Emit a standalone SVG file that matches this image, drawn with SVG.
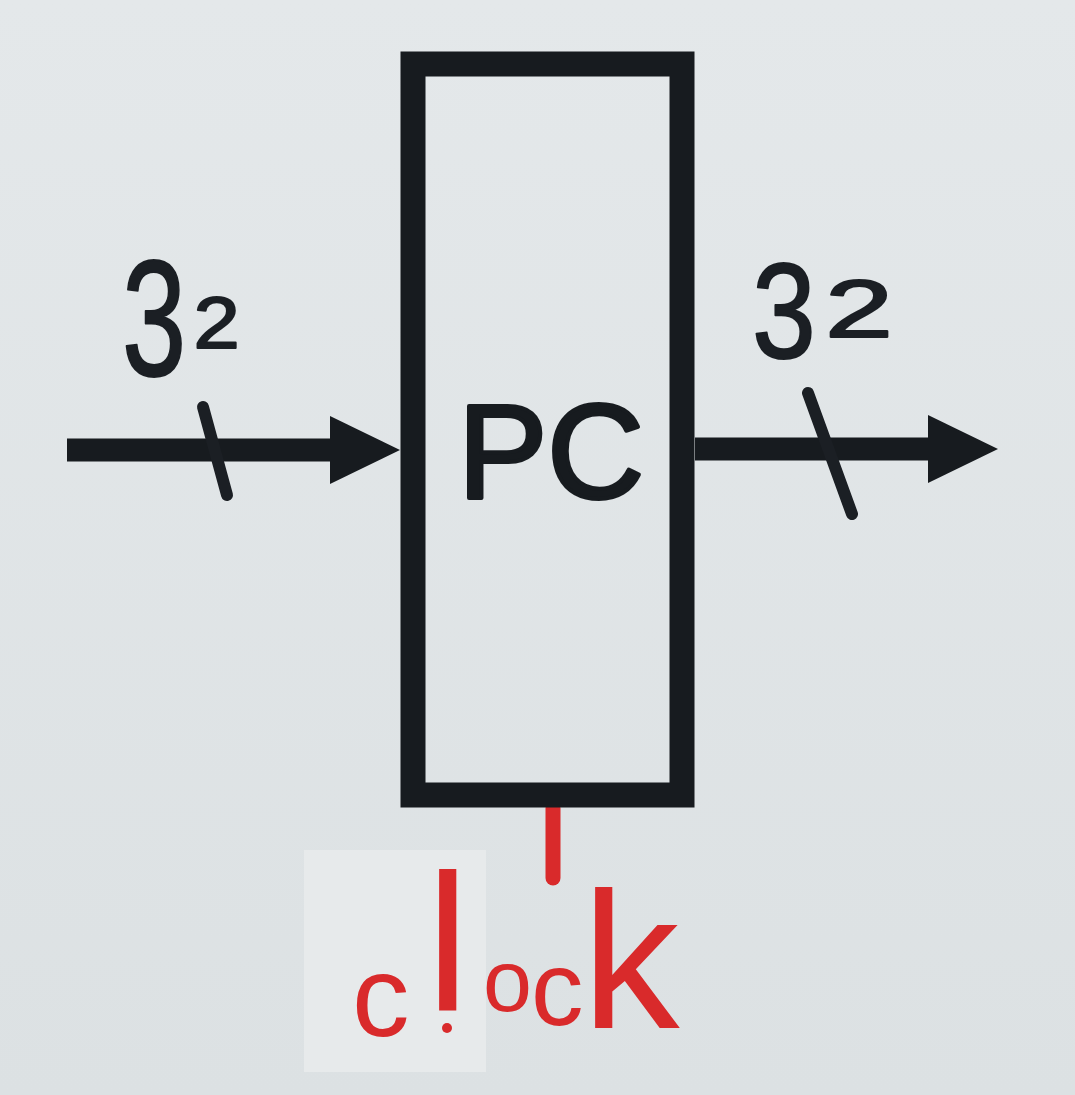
<svg xmlns="http://www.w3.org/2000/svg" width="1075" height="1095" viewBox="0 0 1075 1095">
  <style>
    .wire { stroke: #171b1f; stroke-width: 23; fill: none; }
    .slash { stroke: #1b1f24; stroke-width: 12; stroke-linecap: round; fill: none; }
    .hand { font-family: "Liberation Sans", Arial, sans-serif; fill: #1b1f24; stroke: #1b1f24; stroke-width: 2; stroke-linejoin: round; }
    .red { font-family: "Liberation Sans", Arial, sans-serif; fill: #d92a2b; }
    .label { font-family: "Liberation Sans", Arial, sans-serif; font-size: 134px; fill: #171b1f; stroke: #171b1f; stroke-width: 4; stroke-linejoin: round; }
  </style>
  <defs>
    <linearGradient id="paper" x1="0" y1="0" x2="0" y2="1">
      <stop offset="0" stop-color="#e4e8ea"/>
      <stop offset="1" stop-color="#dce1e3"/>
    </linearGradient>
    <marker id="arrow" viewBox="0 0 70 68" refX="2" refY="34" markerWidth="70" markerHeight="68" markerUnits="userSpaceOnUse" orient="auto">
      <path d="M0,0 L70,34 L0,68 Z" fill="#171b1f"/>
    </marker>
  </defs>

  <rect x="0" y="0" width="1075" height="1095" fill="url(#paper)"/>
  <!-- paper patch behind the clock label -->
  <rect x="304" y="850" width="182" height="222" fill="#e7eaeb"/>

  <g id="connectors">
    <path class="wire" d="M67,450 L332,450" marker-end="url(#arrow)"/>
    <path class="wire" d="M695,449 L930,449" marker-end="url(#arrow)"/>
    <path class="slash" d="M203,407 L227,495"/>
    <path class="slash" d="M808,393 L852,514"/>
    <path d="M553,808 L553,878" stroke="#d92a2b" stroke-width="15" stroke-linecap="round" fill="none"/>
  </g>

  <g id="pc">
    <rect x="413" y="64" width="269" height="731" fill="none" stroke="#171b1f" stroke-width="25"/>
    <text class="label" x="551" y="498" text-anchor="middle">PC</text>
  </g>

  <g id="label-in">
    <text class="hand" transform="translate(122,0) scale(0.7,1)" x="0" y="375"><tspan font-size="165">3</tspan><tspan font-size="72" x="102" y="348" textLength="66" lengthAdjust="spacingAndGlyphs">2</tspan></text>
  </g>

  <g id="label-out">
    <text class="hand" transform="translate(752,0) scale(0.85,1)" x="0" y="358"><tspan font-size="135">3</tspan><tspan font-size="82" x="86" y="337" textLength="80" lengthAdjust="spacingAndGlyphs">2</tspan></text>
  </g>

  <g id="clock-label">
    <text class="red"><tspan x="352" y="1036" font-size="115">c</tspan><tspan x="426" y="1010" font-size="195">l</tspan><tspan x="483" y="1011" font-size="88">o</tspan><tspan x="531" y="1025" font-size="105">c</tspan><tspan x="582" y="1028" font-size="195">k</tspan></text>
    <circle cx="447" cy="1028" r="5" fill="#d92a2b"/>
  </g>
</svg>
